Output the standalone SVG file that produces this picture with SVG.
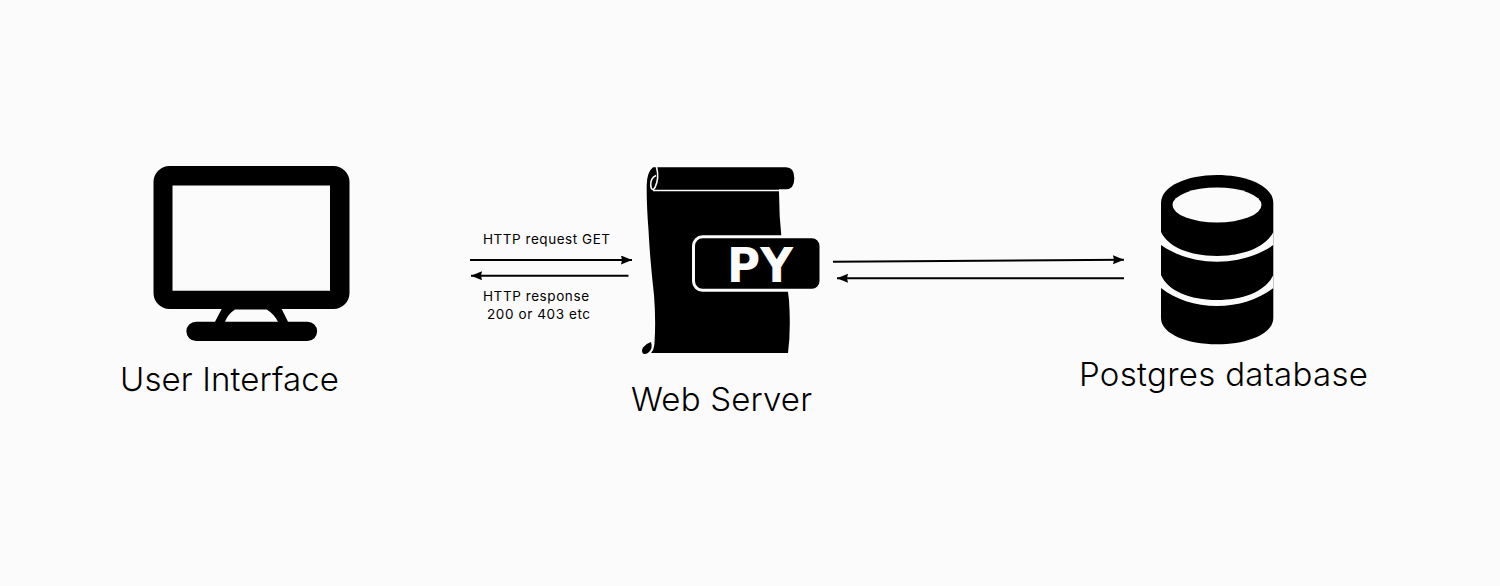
<svg xmlns="http://www.w3.org/2000/svg" width="1500" height="586" viewBox="0 0 1500 586">
<defs>
<style>
.ink{fill:#000}
.gap{fill:#fbfbfb}
.curl{fill:none;stroke:#fbfbfb;stroke-width:1.600}
.big{font-family:"Inter","Liberation Sans",sans-serif;font-weight:300;font-size:33px;fill:#000}
.small{font-family:"Inter","Liberation Sans",sans-serif;font-weight:400;font-size:13.500px;fill:#000}
.conn{stroke:#000;stroke-width:2;fill:none;marker-end:url(#arrow)}
</style>
<marker id="arrow" markerUnits="userSpaceOnUse" markerWidth="12" markerHeight="10" refX="11" refY="4.500" orient="auto"><path d="M0 0L11 4.500L0 9L1 4.500Z" fill="#000"/></marker>
</defs>
<rect width="1500" height="586" fill="#fbfbfb"/>
<g id="user-interface">
<path class="ink" fill-rule="evenodd" d="M169.500 166H333.500A16 16 0 0 1 349.500 182V293A16 16 0 0 1 333.500 309H281.700L288 321.700H307.500A9.650 9.650 0 0 1 307.500 341H196A9.650 9.650 0 0 1 196 321.700H215L221.700 309H169.500A16 16 0 0 1 153.500 293V182A16 16 0 0 1 169.500 166ZM172.500 185.500V290.700H330V185.500ZM235 309.500Q228 314 225 321.700H278Q274 314 266.700 309.500Z"/>
<text class="big" x="120" y="391" textLength="219" lengthAdjust="spacing">User Interface</text>
</g>
<g id="web-server">
<path class="ink" d="M653 167.300H786Q794.300 167.300 794.300 178.300Q794.300 189.300 786 189.300H779V192Q779 215 781.700 240Q785 270 789 300Q791 330 788 353H651Q654 350 654.500 343Q656 320 654 295Q650 260 648.500 230Q646.500 205 646.700 185Q647 172 653 167.300Z"/>
<path class="ink" d="M651 342Q653 348 649 352Q646 355 643 353.500Q641 351 643 347.500Q646 343.500 651 342Z"/>
<path class="curl" d="M656.500 167Q659.500 178 655 187.500Q652 192 650.800 186.500Q650 178 656 175.500"/>
<path class="curl" d="M653 190.500H779.500" stroke-width="2.500"/>
<rect class="ink" x="693.500" y="236.800" width="127.500" height="53.500" rx="9" stroke="#fbfbfb" stroke-width="3"/>
<text x="727" y="282" font-family="'DejaVu Sans',sans-serif" font-weight="700" font-size="48" fill="#fbfbfb" textLength="66" lengthAdjust="spacingAndGlyphs">PY</text>
<text class="big" x="631" y="411" textLength="181" lengthAdjust="spacing">Web Server</text>
</g>
<g id="postgres-database">
<path class="ink" d="M1161 203C1161 186 1187 175 1217 175C1247 175 1273.300 186 1273.300 203V318C1273.300 334 1247 344.300 1217 344.300C1187 344.300 1161 334 1161 318Z"/>
<ellipse class="gap" cx="1217" cy="205" rx="44.500" ry="17.500"/>
<path class="gap" d="M1161 232C1168 247 1190 256 1217 256C1244 256 1266 247 1273.300 232V245C1259 255 1239 261.700 1217 261.700C1195 261.700 1175 255 1161 245Z"/>
<path class="gap" d="M1161 275C1168 291 1190 300 1217 300C1244 300 1266 291 1273.300 275V288C1259 299 1239 306 1217 306C1195 306 1175 299 1161 288Z"/>
<text class="big" x="1079" y="386" textLength="289" lengthAdjust="spacing">Postgres database</text>
</g>
<g id="connectors">
<line class="conn" x1="470" y1="260" x2="632" y2="260"/>
<line class="conn" x1="628.500" y1="275.700" x2="471" y2="275.700"/>
<line class="conn" x1="833" y1="261.700" x2="1124" y2="259.700"/>
<line class="conn" x1="1124" y1="278.300" x2="837" y2="278.300"/>
<text class="small" x="483" y="244" textLength="127" lengthAdjust="spacing">HTTP request GET</text>
<text class="small" x="483" y="301" textLength="106" lengthAdjust="spacing">HTTP response</text>
<text class="small" x="487" y="319" textLength="103" lengthAdjust="spacing">200 or 403 etc</text>
</g>
</svg>
